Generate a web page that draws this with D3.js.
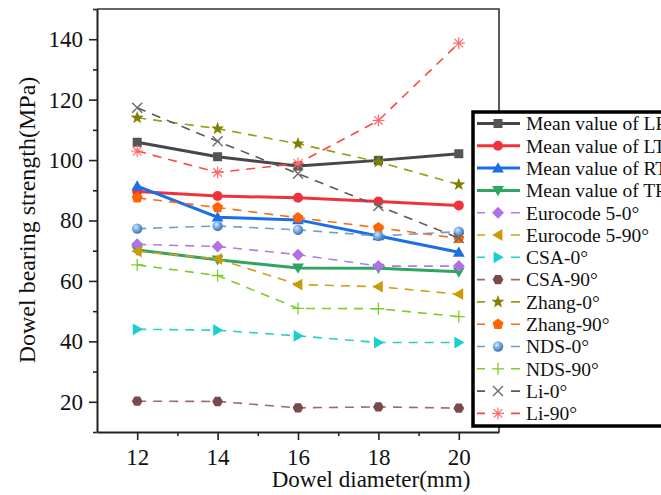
<!DOCTYPE html>
<html>
<head>
<meta charset="utf-8">
<script src="https://cdn.jsdelivr.net/npm/d3@7"></script>
<style>
  html, body { margin: 0; padding: 0; background: #fff; }
  svg { display: block; }
  svg text { font-family: "Liberation Serif", "Tinos", "Times New Roman", "DejaVu Serif", serif !important; fill: #111; }
</style>
</head>
<body>
<svg id="chart" width="661" height="495"></svg>
<script>
// Dowel diameters (mm)
const diameters = [12, 14, 16, 18, 20];

// Dowel bearing strength (MPa) for each series
const meanLR  = [105.9, 101.1, 98.0, 99.9, 102.1];
const meanLT  = [89.6, 88.1, 87.5, 86.3, 85.0];
const meanRT  = [91.4, 81.1, 80.2, 74.9, 69.5];
const meanTR  = [70.2, 67.0, 64.3, 64.2, 63.0];
const euro0   = [72.1, 71.4, 68.7, 64.9, 64.9];
const euro90  = [69.8, 67.3, 58.8, 58.1, 55.6];
const csa0    = [44.0, 43.7, 41.8, 39.6, 39.6];
const csa90   = [20.2, 20.1, 18.0, 18.3, 17.9];
const zhang0  = [114.0, 110.4, 105.4, 99.4, 91.9];
const zhang90 = [87.5, 84.3, 80.9, 77.6, 74.1];
const nds0    = [77.3, 78.2, 76.9, 74.9, 76.3];
const nds90   = [65.3, 61.8, 50.9, 50.8, 48.2];
const li0     = [117.3, 106.2, 95.5, 84.8, 74.2];
const li90    = [103.0, 95.9, 98.9, 113.1, 138.7];

// Axis ticks
const xTicks = [12, 14, 16, 18, 20];
const xMinorTicks = [13, 15, 17, 19];
const yTicks = [20, 40, 60, 80, 100, 120, 140];
const yMinorTicks = [10, 30, 50, 70, 90, 110, 130, 150];

const labels = ["Mean value of LR", "Mean value of LT", "Mean value of RT", "Mean value of TR",
  "Eurocode 5-0°", "Eurocode 5-90°", "CSA-0°", "CSA-90°", "Zhang-0°", "Zhang-90°",
  "NDS-0°", "NDS-90°", "Li-0°", "Li-90°"];
const values = [meanLR, meanLT, meanRT, meanTR, euro0, euro90, csa0, csa90,
  zhang0, zhang90, nds0, nds90, li0, li90];

// Styles per series
const styles = [
  { color: "#474747", fill: "#555555", solid: true,  marker: "square" },
  { color: "#f0323c", fill: "#f0323c", solid: true,  marker: "circle" },
  { color: "#1a6fe8", fill: "#1a6fe8", solid: true,  marker: "triUp" },
  { color: "#2fa463", fill: "#2fa463", solid: true,  marker: "triDown" },
  { color: "#b57ae6", fill: "#b070e6", solid: false, marker: "diamond" },
  { color: "#d4a017", fill: "#cc9a06", solid: false, marker: "triLeft" },
  { color: "#22d0d4", fill: "#19cfd2", solid: false, marker: "triRight" },
  { color: "#9a6c6c", fill: "#7a4a4a", solid: false, marker: "hexagon" },
  { color: "#9c9c10", fill: "#808000", solid: false, marker: "star" },
  { color: "#ff6a10", fill: "#ff6400", solid: false, marker: "pentagon" },
  { color: "#6a9fd8", fill: "#5d9ad6", solid: false, marker: "sphere" },
  { color: "#7fcb28", fill: "#7fcb28", solid: false, marker: "plus" },
  { color: "#5a5a5a", fill: "#6a6a6a", solid: false, marker: "cross" },
  { color: "#ff4646", fill: "#ff6a6a", solid: false, marker: "asterisk" }
];

const series = labels.map((name, i) => ({
  name, style: styles[i],
  points: diameters.map((d, j) => ({ x: d, y: values[i][j] }))
}));

const svg = d3.select("#chart");
const FONT = "'Liberation Serif', 'Tinos', 'Times New Roman', 'DejaVu Serif', serif";

const x = d3.scaleLinear().domain([11, 21]).range([97, 499]);
const y = d3.scaleLinear().domain([10, 150]).range([432, 9]);

// radial gradient for the sphere marker
const defs = svg.append("defs");
const grad = defs.append("radialGradient").attr("id", "sphereGrad")
  .attr("cx", "38%").attr("cy", "35%").attr("r", "65%");
grad.append("stop").attr("offset", "0%").attr("stop-color", "#d6e8fa");
grad.append("stop").attr("offset", "45%").attr("stop-color", "#7fb0e4");
grad.append("stop").attr("offset", "100%").attr("stop-color", "#3d74b8");

function polygon(n, r, rotDeg) {
  const pts = d3.range(n).map(i => {
    const a = (rotDeg + i * 360 / n) * Math.PI / 180;
    return [r * Math.cos(a), r * Math.sin(a)];
  });
  return "M" + pts.map(p => p[0].toFixed(2) + "," + p[1].toFixed(2)).join("L") + "Z";
}
function starPath(R, r) {
  const pts = d3.range(10).map(i => {
    const a = (-90 + i * 36) * Math.PI / 180;
    const rr = i % 2 ? r : R;
    return [rr * Math.cos(a), rr * Math.sin(a)];
  });
  return "M" + pts.map(p => p[0].toFixed(2) + "," + p[1].toFixed(2)).join("L") + "Z";
}

function drawMarker(g, st, cx, cy) {
  const m = g.append("g").attr("transform", `translate(${cx},${cy})`);
  switch (st.marker) {
    case "square":   m.append("rect").attr("x", -4.5).attr("y", -4.5).attr("width", 9).attr("height", 9).attr("fill", st.fill); break;
    case "circle":   m.append("circle").attr("r", 5).attr("fill", st.fill); break;
    case "triUp":    m.append("path").attr("d", polygon(3, 6.8, -90)).attr("transform", "translate(0,1)").attr("fill", st.fill); break;
    case "triDown":  m.append("path").attr("d", polygon(3, 6.8, 90)).attr("transform", "translate(0,-1)").attr("fill", st.fill); break;
    case "triLeft":  m.append("path").attr("d", polygon(3, 6.8, 180)).attr("transform", "translate(1,0)").attr("fill", st.fill); break;
    case "triRight": m.append("path").attr("d", polygon(3, 6.8, 0)).attr("transform", "translate(-1,0)").attr("fill", st.fill); break;
    case "diamond":  m.append("path").attr("d", polygon(4, 6, 0)).attr("fill", st.fill); break;
    case "hexagon":  m.append("path").attr("d", polygon(6, 5.4, 0)).attr("fill", st.fill); break;
    case "pentagon": m.append("path").attr("d", polygon(5, 5.8, -90)).attr("fill", st.fill); break;
    case "star":     m.append("path").attr("d", starPath(6.8, 2.8)).attr("fill", st.fill); break;
    case "sphere":   m.append("circle").attr("r", 5.2).attr("fill", "url(#sphereGrad)"); break;
    case "plus":
      m.append("path").attr("d", "M-6,0H6M0,-6V6").attr("stroke", st.fill).attr("stroke-width", 1.3).attr("fill", "none"); break;
    case "cross":
      m.append("path").attr("d", "M-5,-5L5,5M-5,5L5,-5").attr("stroke", st.fill).attr("stroke-width", 1.4).attr("fill", "none"); break;
    case "asterisk":
      m.append("path").attr("d", "M-6,0H6M0,-6V6M-4.3,-4.3L4.3,4.3M-4.3,4.3L4.3,-4.3")
        .attr("stroke", st.fill).attr("stroke-width", 1.2).attr("fill", "none"); break;
  }
}

// frame (top and right edges)
svg.append("path").attr("d", `M${x(11)},${y(150)}H${x(21)}V${y(10)}`)
  .attr("fill", "none").attr("stroke", "#333").attr("stroke-width", 1.6);

// series lines and markers
const line = d3.line().x(d => x(d.x)).y(d => y(d.y));
const plot = svg.append("g");
series.forEach(s => {
  const g = plot.append("g");
  g.append("path").datum(s.points).attr("d", line)
    .attr("fill", "none").attr("stroke", s.style.color)
    .attr("stroke-width", s.style.solid ? 3 : 1.6)
    .attr("stroke-dasharray", s.style.solid ? null : "9,7");
  s.points.forEach(p => drawMarker(g, s.style, x(p.x), y(p.y)));
});

// axes
const xAxis = d3.axisBottom(x).tickValues(xTicks).tickSize(8).tickSizeOuter(0).tickPadding(9).tickFormat(d3.format("d"));
const xg = svg.append("g").attr("transform", `translate(0,${y(10)})`).call(xAxis);
const xMinor = d3.axisBottom(x).tickValues(xMinorTicks).tickSize(4).tickFormat("");
svg.append("g").attr("transform", `translate(0,${y(10)})`).call(xMinor).select(".domain").remove();

const yAxis = d3.axisLeft(y).tickValues(yTicks).tickSize(8).tickSizeOuter(0).tickPadding(6).tickFormat(d3.format("d"));
const yg = svg.append("g").attr("transform", `translate(${x(11)},0)`).call(yAxis);
const yMinor = d3.axisLeft(y).tickValues(yMinorTicks).tickSize(4).tickFormat("");
svg.append("g").attr("transform", `translate(${x(11)},0)`).call(yMinor).select(".domain").remove();

svg.selectAll("g").attr("font-family", FONT);
svg.selectAll(".domain").attr("stroke", "#222").attr("stroke-width", 2);
svg.selectAll(".tick line").attr("stroke", "#222").attr("stroke-width", 1.6);
svg.selectAll(".tick text").attr("font-family", FONT).attr("font-size", 23).attr("fill", "#111");

// axis titles
svg.append("text").attr("x", 371).attr("y", 487).attr("text-anchor", "middle")
  .attr("font-family", FONT).attr("font-size", 23).text("Dowel diameter(mm)");
svg.append("text").attr("transform", "translate(35,220) rotate(-90)")
  .attr("text-anchor", "middle").attr("font-family", FONT).attr("font-size", 24)
  .text("Dowel bearing strength(MPa)");

// legend
const lg = svg.append("g");
lg.append("rect").attr("x", 473).attr("y", 112).attr("width", 300).attr("height", 314)
  .attr("fill", "#fff").attr("stroke", "#000").attr("stroke-width", 3.5);
series.forEach((s, i) => {
  const cy = 123.5 + i * 22.3;
  if (s.style.solid) {
    lg.append("line").attr("x1", 477).attr("x2", 520).attr("y1", cy).attr("y2", cy)
      .attr("stroke", s.style.color).attr("stroke-width", 3);
  } else {
    lg.append("path").attr("d", `M477,${cy}H485M511,${cy}H520`)
      .attr("stroke", s.style.color).attr("stroke-width", 1.6);
  }
  drawMarker(lg, s.style, 498, cy);
  lg.append("text").attr("x", 526).attr("y", cy).attr("dy", "0.35em")
    .attr("font-family", FONT).attr("font-size", 19.5).text(s.name);
});
</script>
</body>
</html>
